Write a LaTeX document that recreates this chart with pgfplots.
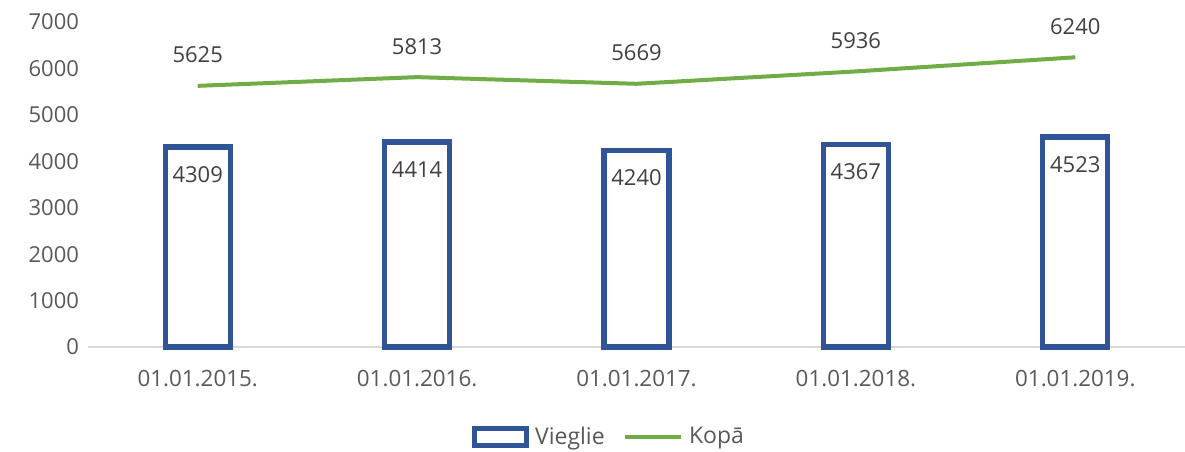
\documentclass[border=0pt]{standalone}
\usepackage{pgfplots}
\pgfplotsset{compat=1.18}
\usepackage{fontspec}
\setmainfont{Open Sans}
\definecolor{barblue}{HTML}{2F5597}
\definecolor{linegreen}{HTML}{70AD47}
\definecolor{ticktext}{HTML}{595959}
\definecolor{labtext}{HTML}{404040}
\definecolor{axisgray}{HTML}{D9D9D9}
\pgfplotsset{
  barlegend/.style={legend image code/.code={\draw[##1, line width=2.4pt] (0pt,-4.2pt) rectangle (26pt,4.2pt);}},
  linelegend/.style={legend image code/.code={\draw[##1, line width=2.2pt] (0pt,0pt) -- (28pt,0pt);}},
}
\begin{document}
\begin{tikzpicture}
\useasboundingbox (-44pt,-52pt) rectangle (548.5pt,173.5pt);
\begin{axis}[
  scale only axis,
  width=548.5pt, height=162.5pt,
  xmin=-0.5, xmax=4.5,
  ymin=0, ymax=7000,
  xtick={0,1,2,3,4},
  xticklabels={01.01.2015.,01.01.2016.,01.01.2017.,01.01.2018.,01.01.2019.},
  ytick={0,1000,...,7000},
  axis y line*=left,
  axis x line*=bottom,
  y axis line style={draw=none},
  x axis line style={draw=axisgray, line width=0.6pt},
  major tick length=0pt,
  tick style={draw=none},
  /pgf/number format/assume math mode=true,
  /pgf/number format/1000 sep={},
  yticklabel style={font=\fontsize{11}{13}\selectfont, text=ticktext, xshift=-1pt},
  xticklabel style={font=\fontsize{11.2}{13}\selectfont, text=ticktext, yshift=-8pt},
  legend style={at={(0.476,-0.277)}, anchor=center, draw=none, legend columns=2,
    font=\fontsize{11.5}{13}\selectfont, text=ticktext,
    /tikz/every even column/.append style={column sep=7pt},
    /tikz/every odd column/.append style={column sep=1pt}},
  legend cell align=left,
  clip=false,
]
\addplot[ybar, bar width=32.5pt, draw=barblue, line width=2.6pt, fill=white,
  nodes near coords,
  every node near coord/.append style={anchor=north, yshift=-5pt, text=labtext, font=\fontsize{11}{13}\selectfont},
  barlegend
] coordinates {(0,4309) (1,4414) (2,4240) (3,4367) (4,4523)};
\addlegendentry{Vieglie}
\addplot[linegreen, line width=2pt, mark=none,
  nodes near coords,
  every node near coord/.append style={anchor=south, yshift=7pt, text=labtext, font=\fontsize{11}{13}\selectfont},
  linelegend
] coordinates {(0,5625) (1,5813) (2,5669) (3,5936) (4,6240)};
\addlegendentry{Kopā}
\end{axis}
\end{tikzpicture}
\end{document}
